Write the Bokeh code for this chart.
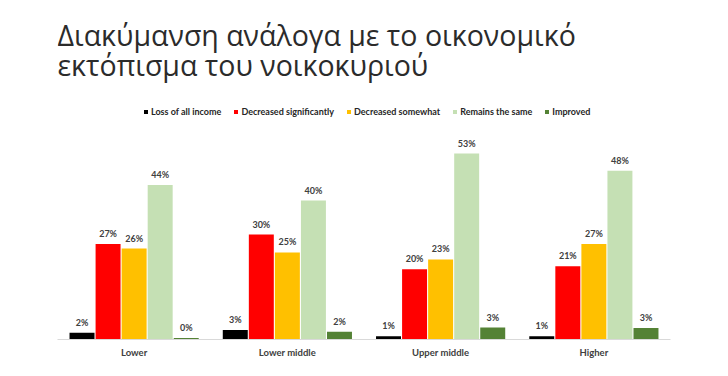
from bokeh.plotting import figure
from bokeh.models import ColumnDataSource, FactorRange, Range1d, Label, LabelSet, Legend
from bokeh.transform import dodge
from bokeh.core.properties import value
from bokeh.embed import file_html
from bokeh.resources import INLINE

title_line1 = "Διακύμανση ανάλογα με το οικονομικό"
title_line2 = "εκτόπισμα του νοικοκυριού"

categories = ["Lower", "Lower middle", "Upper middle", "Higher"]
series_names = ["Loss of all income", "Decreased significantly", "Decreased somewhat",
                "Remains the same", "Improved"]
loss_all = [1.9, 2.7, 0.9, 0.9]
decreased_significantly = [27.2, 29.9, 20.0, 20.9]
decreased_somewhat = [25.9, 24.8, 22.8, 27.2]
remains_same = [44.0, 39.6, 53.0, 48.1]
improved = [0.4, 2.2, 3.4, 3.3]

series_values = [loss_all, decreased_significantly, decreased_somewhat, remains_same, improved]
colors = ["#000000", "#FF0000", "#FFC000", "#C5E0B4", "#548235"]
offsets = [-0.34, -0.17, 0.0, 0.17, 0.34]

p = figure(width=712, height=368, output_backend="svg", toolbar_location=None,
           x_range=FactorRange(*categories), y_range=Range1d(0, 96.6),
           min_border_left=57, min_border_right=42, min_border_top=0, min_border_bottom=29)
p.outline_line_color = None
p.xgrid.visible = False
p.ygrid.visible = False
p.yaxis.visible = False
p.background_fill_color = "white"
p.border_fill_color = "white"

lab_font = value("Lato")
for name, vals, col, off in zip(series_names, series_values, colors, offsets):
    src = ColumnDataSource(dict(cat=categories, val=vals,
                                lab=[f"{round(v)}%" for v in vals]))
    p.vbar(x=dodge("cat", off, range=p.x_range), top="val", width=0.163, source=src,
           color=col, line_color=None, legend_label=name)
    ls = LabelSet(x=dodge("cat", off, range=p.x_range), y="val", text="lab", source=src,
                  text_align="center", text_baseline="bottom", y_offset=5,
                  text_font=lab_font, text_font_size="9px", text_font_style="bold",
                  text_color="#404040")
    p.add_layout(ls)

ax = p.xaxis[0]
ax.axis_line_color = "#d9d9d9"
ax.major_tick_line_color = None
ax.minor_tick_line_color = None
ax.major_label_text_font = "Lato"
ax.major_label_text_font_size = "9.5px"
ax.major_label_text_font_style = "bold"
ax.major_label_text_color = "#404040"
ax.major_label_standoff = 1

leg = p.legend[0]
leg.orientation = "horizontal"
leg.location = (86, 222)
leg.border_line_color = None
leg.background_fill_alpha = 0
leg.padding = 0
leg.margin = 0
leg.spacing = 12
leg.glyph_width = 5
leg.glyph_height = 5
leg.label_height = 10
leg.label_standoff = 3
leg.label_text_font = "Lato"
leg.label_text_font_size = "9px"
leg.label_text_font_style = "bold"
leg.label_text_color = "#262626"

for txt, yy in [(title_line1, 305), (title_line2, 275)]:
    p.add_layout(Label(x=0, y=yy, x_units="screen", y_units="screen", text=txt,
                       text_font="Open Sans", text_font_size="28.5px",
                       text_color="#2b2b2b", text_baseline="alphabetic"))

open("out.html", "w").write(file_html(p, INLINE))
